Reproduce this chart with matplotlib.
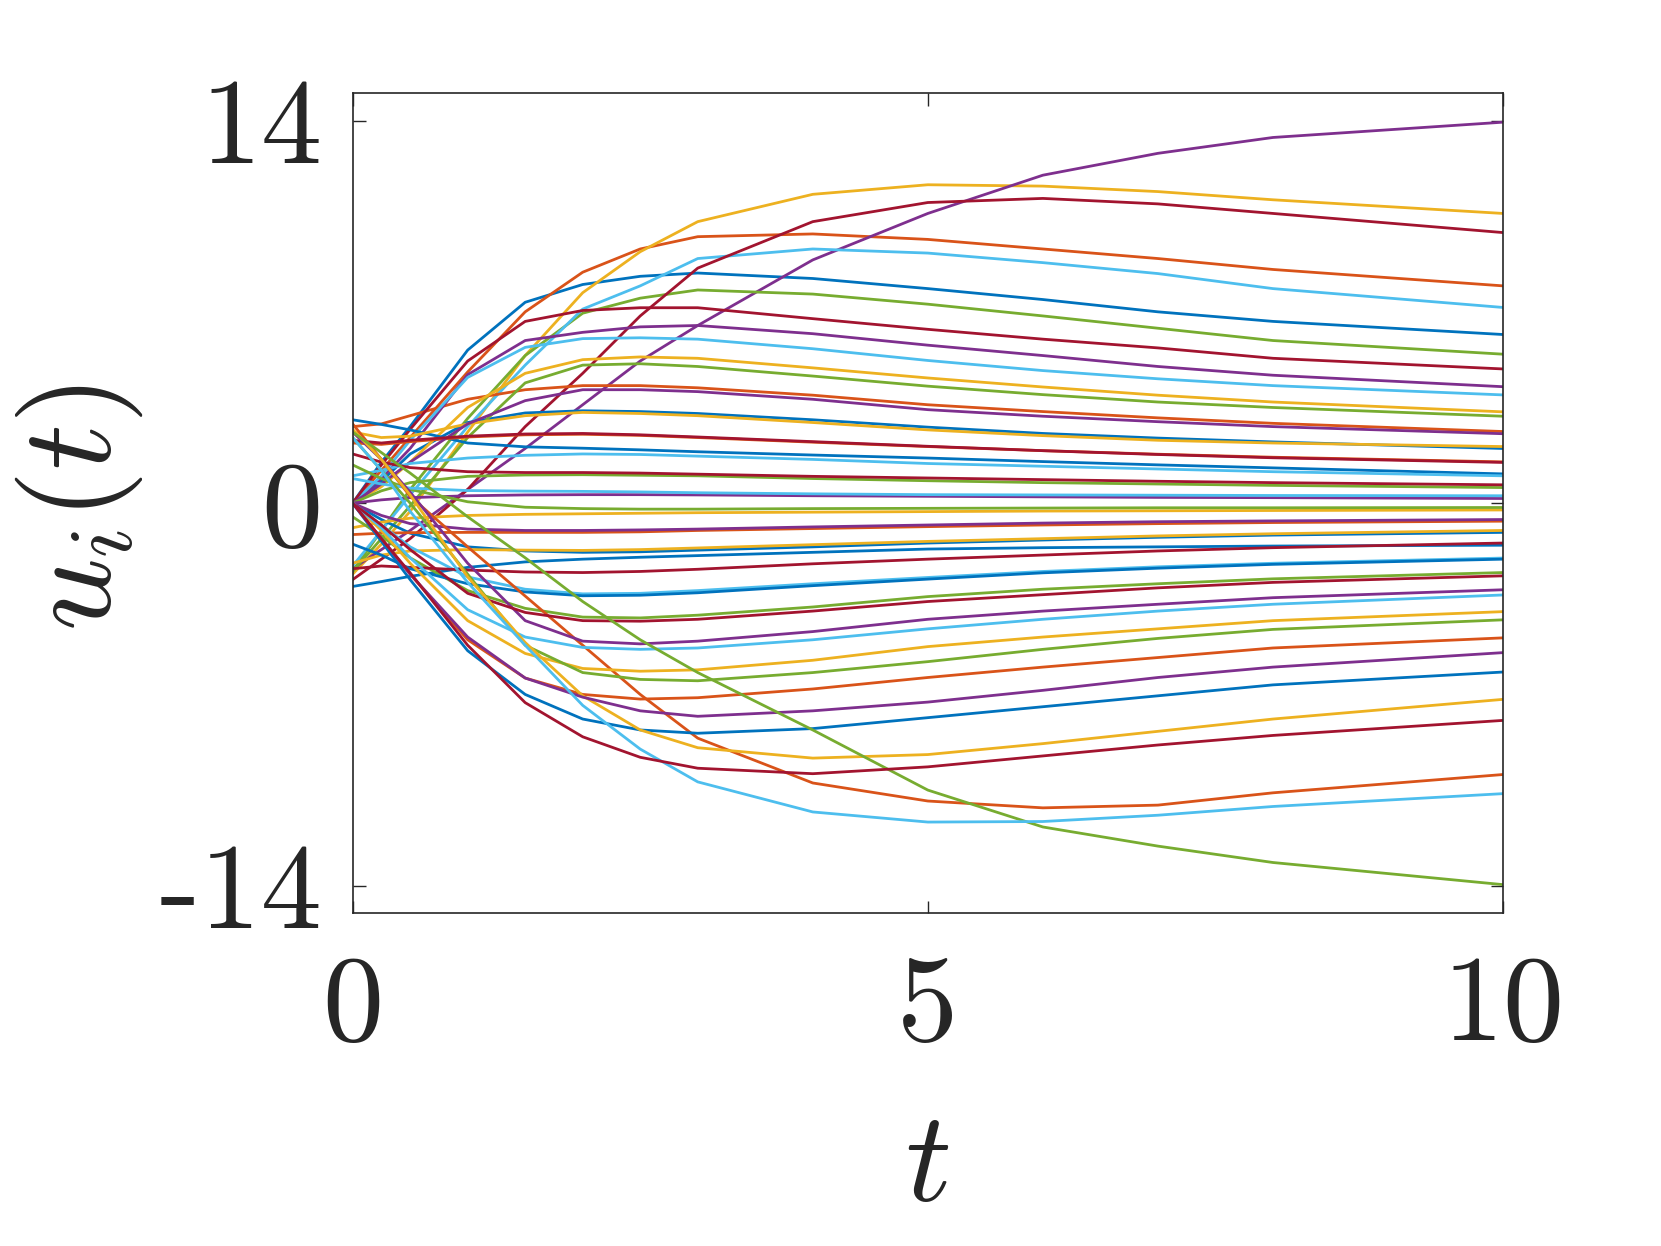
import numpy as np
import matplotlib.pyplot as plt

# sample times (values below at these t)
T = [0, 0.25, 0.5, 1, 1.5, 2, 2.5, 3, 4, 5, 6, 7, 8, 10]

blue_lines = [
    [0, 1.5, 2.8, 5.6, 7.35, 8.0, 8.3, 8.42, 8.22, 7.85, 7.45, 7.0, 6.65, 6.17],
    [0, 0.8, 1.8, 2.95, 3.3, 3.38, 3.35, 3.28, 3.05, 2.78, 2.55, 2.38, 2.24, 2.0],
    [3.05, 2.88, 2.68, 2.2, 2.06, 2.01, 1.95, 1.88, 1.76, 1.65, 1.52, 1.4, 1.29, 1.07],
    [0, -0.6, -1.1, -1.6, -1.75, -1.8, -1.78, -1.72, -1.6, -1.46, -1.35, -1.25, -1.17, -1.07],
    [-3.05, -2.87, -2.68, -2.35, -2.15, -2.05, -1.98, -1.92, -1.8, -1.68, -1.63, -1.6, -1.57, -1.54],
    [-1.5, -1.9, -2.4, -2.95, -3.25, -3.39, -3.37, -3.28, -3.02, -2.78, -2.55, -2.38, -2.24, -2.05],
    [0, -1.4, -2.8, -5.4, -7.0, -7.9, -8.3, -8.42, -8.25, -7.85, -7.45, -7.05, -6.65, -6.18],
]
orange_lines = [
    [0, 1.2, 2.4, 4.8, 7.0, 8.45, 9.3, 9.75, 9.85, 9.65, 9.3, 8.95, 8.55, 7.95],
    [2.8, 2.9, 3.2, 3.8, 4.15, 4.3, 4.3, 4.22, 3.95, 3.6, 3.35, 3.12, 2.92, 2.62],
    [2.2, 2.15, 2.25, 2.42, 2.5, 2.52, 2.48, 2.4, 2.23, 2.07, 1.92, 1.79, 1.68, 1.51],
    [-1.15, -1.1, -1.08, -1.07, -1.07, -1.07, -1.05, -1.0, -0.93, -0.86, -0.8, -0.75, -0.71, -0.66],
    [0, -1.3, -2.6, -5.0, -6.4, -7.0, -7.17, -7.12, -6.8, -6.38, -6.0, -5.65, -5.3, -4.93],
    [2.9, 1.6, 0.25, -1.6, -3.4, -5.2, -7.0, -8.6, -10.24, -10.9, -11.15, -11.05, -10.6, -9.93],
]
yellow_lines = [
    [-2.6, -1.5, -0.3, 2.6, 5.4, 7.7, 9.2, 10.3, 11.3, 11.65, 11.6, 11.4, 11.1, 10.6],
    [0, 0.6, 1.5, 3.5, 4.75, 5.25, 5.35, 5.3, 4.95, 4.58, 4.25, 3.95, 3.7, 3.34],
    [2.6, 2.4, 2.45, 2.9, 3.2, 3.32, 3.28, 3.2, 2.95, 2.68, 2.47, 2.3, 2.2, 2.07],
    [-0.9, -0.7, -0.55, -0.45, -0.41, -0.39, -0.37, -0.35, -0.33, -0.31, -0.29, -0.28, -0.27, -0.25],
    [-2.2, -1.9, -1.75, -1.7, -1.72, -1.73, -1.7, -1.64, -1.52, -1.4, -1.3, -1.2, -1.12, -1.0],
    [0, -1.0, -2.2, -4.3, -5.5, -6.05, -6.15, -6.1, -5.75, -5.25, -4.9, -4.6, -4.3, -3.97],
    [2.7, 1.6, 0.3, -2.7, -5.1, -7.05, -8.3, -8.95, -9.33, -9.2, -8.8, -8.35, -7.9, -7.18],
]
purple_lines = [
    [-2.4, -1.7, -1.0, 0.5, 2.0, 3.6, 5.2, 6.5, 8.9, 10.6, 12.0, 12.8, 13.38, 13.94],
    [0, 0.9, 2.0, 4.7, 5.95, 6.25, 6.45, 6.5, 6.2, 5.78, 5.4, 5.0, 4.68, 4.26],
    [0, 0.7, 1.5, 2.9, 3.75, 4.15, 4.15, 4.08, 3.8, 3.42, 3.18, 2.98, 2.8, 2.54],
    [0, 0.12, 0.2, 0.27, 0.3, 0.31, 0.31, 0.3, 0.27, 0.25, 0.23, 0.21, 0.2, 0.17],
    [0, -0.45, -0.75, -0.95, -1.0, -1.0, -0.98, -0.95, -0.87, -0.8, -0.73, -0.68, -0.65, -0.6],
    [2.6, 1.6, 0.4, -2.2, -4.3, -5.05, -5.15, -5.05, -4.7, -4.25, -3.95, -3.7, -3.46, -3.17],
    [0, -1.3, -2.6, -4.9, -6.4, -7.1, -7.6, -7.8, -7.6, -7.28, -6.85, -6.38, -6.0, -5.47],
]
green_lines = [
    [-2.5, -1.0, 0.5, 3.1, 5.4, 6.95, 7.5, 7.8, 7.65, 7.28, 6.85, 6.4, 5.95, 5.45],
    [-2.5, -1.3, -0.1, 2.4, 4.4, 5.05, 5.1, 5.0, 4.65, 4.28, 3.97, 3.7, 3.5, 3.18],
    [0, 0.45, 0.75, 0.98, 1.03, 1.04, 1.02, 1.0, 0.9, 0.82, 0.75, 0.7, 0.65, 0.57],
    [1.4, 0.9, 0.5, 0.05, -0.15, -0.2, -0.22, -0.22, -0.2, -0.19, -0.18, -0.17, -0.17, -0.16],
    [-0.5, -1.2, -2.0, -3.2, -3.85, -4.17, -4.2, -4.1, -3.8, -3.42, -3.15, -2.95, -2.77, -2.54],
    [2.4, 1.2, 0.0, -2.6, -5.2, -6.2, -6.45, -6.5, -6.2, -5.8, -5.35, -4.95, -4.62, -4.27],
    [2.6, 1.85, 1.1, -0.5, -2.0, -3.6, -5.0, -6.2, -8.3, -10.5, -11.85, -12.55, -13.15, -13.96],
]
lightblue_lines = [
    [-2.3, -1.0, 0.3, 2.8, 5.05, 7.1, 7.95, 8.95, 9.3, 9.15, 8.8, 8.4, 7.85, 7.16],
    [0, 1.0, 2.3, 4.6, 5.7, 6.02, 6.05, 6.0, 5.65, 5.22, 4.85, 4.55, 4.3, 3.96],
    [1.0, 1.2, 1.45, 1.65, 1.75, 1.8, 1.78, 1.72, 1.6, 1.45, 1.35, 1.25, 1.15, 1.0],
    [0.9, 0.7, 0.55, 0.46, 0.44, 0.43, 0.41, 0.38, 0.34, 0.31, 0.3, 0.29, 0.28, 0.27],
    [0, -0.8, -1.6, -2.7, -3.15, -3.32, -3.3, -3.2, -2.95, -2.72, -2.5, -2.33, -2.2, -2.01],
    [0, -0.9, -2.0, -3.9, -4.9, -5.28, -5.35, -5.3, -5.0, -4.6, -4.25, -3.95, -3.7, -3.36],
    [2.4, 1.2, -0.3, -2.9, -5.2, -7.4, -9.0, -10.2, -11.3, -11.67, -11.65, -11.42, -11.1, -10.63],
]
red_lines = [
    [-2.8, -2.05, -1.3, 0.5, 2.8, 4.75, 6.85, 8.6, 10.3, 11.0, 11.15, 10.95, 10.6, 9.9],
    [0, 1.4, 2.7, 5.2, 6.65, 7.05, 7.15, 7.15, 6.75, 6.36, 6.0, 5.68, 5.3, 4.91],
    [2.3, 2.2, 2.3, 2.45, 2.53, 2.55, 2.5, 2.42, 2.25, 2.08, 1.92, 1.78, 1.66, 1.49],
    [1.8, 1.5, 1.3, 1.15, 1.12, 1.12, 1.1, 1.06, 0.98, 0.92, 0.86, 0.8, 0.75, 0.67],
    [-2.4, -2.3, -2.35, -2.45, -2.52, -2.54, -2.5, -2.42, -2.22, -2.05, -1.9, -1.75, -1.63, -1.46],
    [0, -0.8, -1.7, -3.3, -4.0, -4.3, -4.32, -4.25, -3.95, -3.6, -3.35, -3.1, -2.9, -2.66],
    [0, -1.3, -2.55, -5.2, -7.3, -8.55, -9.3, -9.7, -9.9, -9.65, -9.25, -8.85, -8.5, -7.95],
]

groups = [
    ('#0072BD', blue_lines),
    ('#D95319', orange_lines),
    ('#EDB120', yellow_lines),
    ('#7E2F8E', purple_lines),
    ('#77AC30', green_lines),
    ('#4DBEEE', lightblue_lines),
    ('#A2142F', red_lines),
]

plt.rcParams['mathtext.fontset'] = 'cm'
txt = '#262626'

fig = plt.figure(figsize=(16.61, 12.46), dpi=100)
ax = fig.add_axes([0.2123, 0.2672, 0.6926, 0.658])

# interleave colours like MATLAB's colour order
for k in range(7):
    for color, lines in groups:
        if k < len(lines):
            ax.plot(T, lines[k], color=color, lw=2.0, solid_joinstyle='round')

ax.set_xlim(0, 10)
ax.set_ylim(-15, 15)
ax.set_xticks([0, 5, 10])
ax.set_yticks([-14, 0, 14])
ax.set_xticklabels(['0', '5', '10'], fontfamily='cmr10', fontsize=88, color=txt)
ax.set_yticklabels(['-14', '0', '14'], fontfamily='cmr10', fontsize=88, color=txt)
ax.tick_params(direction='in', length=9, width=1.0, top=True, right=True, color=txt)
ax.tick_params(axis='x', pad=30)
ax.tick_params(axis='y', pad=22)
for s in ax.spines.values():
    s.set_color(txt)
    s.set_linewidth(1.2)

fig.text(927 / 1661, 1 - 1165 / 1246, '$t$', fontsize=92, color=txt,
         ha='center', va='center')
fig.text(79 / 1661, 1 - 508 / 1246, '$u_i(t)$', fontsize=92, color=txt,
         ha='center', va='center', rotation=90)

fig.savefig('out.png', dpi=100)
